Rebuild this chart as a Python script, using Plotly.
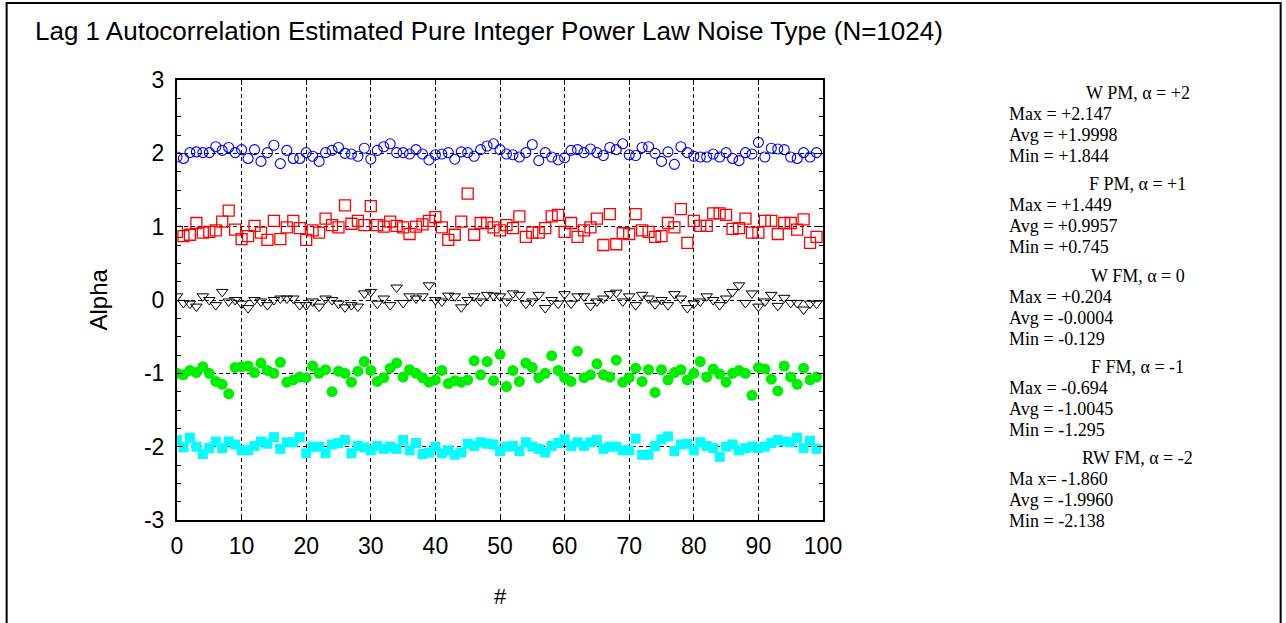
import plotly.graph_objects as go

# ---------------- data ----------------
idx = list(range(100))

w_pm = [1.95, 1.93, 2.01, 2.02, 2.01, 2.01, 2.09, 2.04, 2.08, 2.01,
        2.05, 1.93, 2.05, 1.89, 2.01, 2.11, 1.86, 2.04, 1.93, 1.93,
        2.01, 1.96, 1.89, 2.01, 2.04, 2.08, 2.00, 1.99, 1.96, 2.07,
        1.92, 2.04, 2.09, 2.13, 2.01, 2.01, 1.99, 2.05, 1.99, 1.91,
        1.98, 1.99, 2.01, 1.92, 2.02, 2.01, 1.96, 2.05, 2.10, 2.13,
        2.05, 1.99, 1.98, 1.95, 2.01, 2.12, 1.90, 2.01, 1.95, 1.91,
        1.94, 2.04, 2.05, 2.01, 2.06, 2.01, 1.97, 2.08, 2.05, 2.13,
        1.98, 1.97, 2.08, 2.09, 2.00, 1.89, 2.02, 1.85, 2.09, 2.01,
        1.96, 1.95, 1.95, 1.99, 1.95, 2.01, 1.93, 1.90, 2.01, 1.99,
        2.15, 1.95, 2.07, 2.06, 2.05, 1.95, 1.93, 2.01, 1.95, 2.01]

f_pm = [0.93, 0.87, 0.89, 1.05, 0.92, 0.93, 0.95, 1.07, 1.22, 0.96,
        0.83, 0.87, 1.01, 0.92, 0.82, 1.08, 0.83, 0.99, 1.08, 0.98,
        0.82, 0.95, 0.92, 1.11, 1.02, 0.99, 1.29, 1.04, 1.08, 1.02,
        1.28, 1.02, 1.00, 1.07, 1.01, 0.99, 0.90, 1.00, 1.03, 1.08,
        1.13, 0.99, 0.82, 0.89, 1.07, 1.45, 0.89, 1.05, 1.05, 0.99,
        0.95, 1.02, 0.98, 1.14, 0.86, 0.92, 0.92, 0.98, 1.14, 1.16,
        0.93, 1.05, 0.86, 0.95, 0.99, 1.11, 0.75, 1.17, 0.76, 0.91,
        0.90, 1.17, 0.95, 0.93, 0.86, 0.87, 1.05, 0.99, 1.24, 0.78,
        1.08, 1.01, 1.01, 1.18, 1.18, 1.16, 0.97, 0.98, 1.11, 0.92,
        0.92, 1.08, 1.08, 0.90, 1.05, 1.05, 0.96, 1.10, 0.78, 0.86]

w_fm = [0.05, -0.04, -0.05, -0.09, 0.05, 0.00, -0.07, 0.11, -0.02, 0.00,
        -0.05, -0.11, 0.00, -0.02, -0.07, 0.00, 0.02, 0.02, 0.02, -0.07,
        -0.07, -0.02, -0.09, 0.02, 0.00, -0.05, -0.10, -0.07, -0.09, 0.09,
        0.11, -0.05, 0.02, -0.07, 0.17, -0.04, 0.05, 0.02, 0.05, 0.20,
        0.00, -0.02, 0.06, 0.05, -0.10, 0.00, 0.05, -0.02, 0.07, 0.06,
        0.05, -0.02, 0.09, 0.07, -0.05, -0.02, 0.07, -0.11, 0.00, -0.05,
        0.08, -0.05, 0.05, 0.05, -0.08, -0.02, 0.02, 0.08, 0.10, -0.02,
        0.05, -0.07, 0.07, 0.02, -0.06, 0.00, -0.07, 0.08, 0.02, -0.11,
        -0.05, -0.02, 0.05, 0.00, -0.07, 0.02, 0.11, 0.20, -0.04, 0.09,
        -0.09, -0.02, 0.07, -0.08, 0.03, -0.04, -0.04, -0.13, -0.05, -0.05]

f_fm = [-1.00, -1.02, -0.96, -0.99, -0.91, -1.00, -1.11, -1.15, -1.28, -0.92,
        -0.91, -0.90, -0.99, -0.86, -0.96, -1.00, -0.85, -1.12, -1.09, -1.05,
        -1.06, -0.90, -1.00, -0.95, -1.25, -0.97, -1.00, -1.12, -0.97, -0.84,
        -0.96, -1.11, -1.06, -0.93, -0.86, -1.05, -0.95, -1.00, -1.06, -1.12,
        -1.09, -0.96, -1.14, -1.10, -1.12, -1.09, -0.83, -1.02, -0.84, -1.10,
        -0.74, -1.18, -0.96, -1.11, -0.86, -0.92, -1.06, -1.00, -0.76, -0.96,
        -1.06, -1.11, -0.70, -1.06, -1.02, -0.87, -1.02, -1.05, -0.82, -1.12,
        -1.06, -0.93, -1.11, -0.95, -1.26, -0.95, -1.09, -0.99, -0.95, -1.09,
        -1.00, -0.84, -1.05, -0.94, -1.01, -1.12, -1.00, -0.96, -1.00, -1.30,
        -0.92, -0.94, -1.08, -1.24, -0.90, -1.05, -1.15, -0.93, -1.09, -1.05]

rw_fm = [-1.91, -2.01, -1.88, -2.00, -2.10, -2.02, -1.93, -2.02, -1.93, -1.97,
         -2.05, -2.05, -1.99, -1.93, -1.96, -1.87, -2.03, -1.94, -1.94, -1.87,
         -2.09, -2.00, -2.00, -2.09, -1.97, -1.95, -1.91, -2.09, -1.99, -2.01,
         -2.05, -1.99, -2.03, -2.00, -2.03, -1.91, -2.05, -1.95, -2.10, -2.08,
         -2.00, -2.09, -2.05, -2.11, -2.08, -1.96, -1.99, -1.94, -1.96, -1.97,
         -2.06, -2.00, -1.99, -2.06, -1.94, -2.00, -2.03, -2.08, -1.99, -1.95,
         -1.90, -1.99, -1.94, -1.99, -1.94, -1.91, -2.03, -2.00, -2.00, -2.05,
         -2.05, -1.89, -2.11, -2.11, -1.99, -1.90, -1.86, -2.06, -1.97, -1.96,
         -2.05, -1.94, -1.99, -2.02, -2.14, -2.00, -1.97, -2.05, -2.02, -2.00,
         -2.02, -2.00, -1.95, -1.91, -1.93, -1.94, -1.88, -2.02, -1.92, -2.03]

y_tickvals = [-3, -2, -1, 0, 1, 2, 3]
y_ticktext = ["-3", "-2", "-1", "0", "1", "2", "3"]
x_tickvals = [0, 10, 20, 30, 40, 50, 60, 70, 80, 90, 100]
x_ticktext = ["0", "10", "20", "30", "40", "50", "60", "70", "80", "90", "100"]

group_titles = ["W PM, α = +2", "F PM, α = +1", "W FM, α = 0", "F FM, α = -1", "RW FM, α = -2"]
max_texts = ["Max = +2.147", "Max = +1.449", "Max = +0.204", "Max = -0.694", "Ma x= -1.860"]
avg_texts = ["Avg = +1.9998", "Avg = +0.9957", "Avg = -0.0004", "Avg = -1.0045", "Avg = -1.9960"]
min_texts = ["Min = +1.844", "Min = +0.745", "Min = -0.129", "Min = -1.295", "Min = -2.138"]

title_text = "Lag 1 Autocorrelation Estimated Pure Integer Power Law Noise Type (N=1024)"

# ---------------- figure ----------------
W, H = 1286, 623
L, R, T, B = 176.5, 463, 80, 103
PW, PH = W - L - R, H - T - B


def px(xp):
    return (xp - L) / PW


def py(yp):
    return (H - B - yp) / PH


fig = go.Figure()

fig.add_trace(go.Scatter(x=idx, y=w_pm, mode="markers",
                         marker=dict(symbol="circle-open", size=10, color="#0000ff",
                                     line=dict(width=1.1, color="#0000ff"))))
fig.add_trace(go.Scatter(x=idx, y=f_pm, mode="markers",
                         marker=dict(symbol="square-open", size=11, color="#ff0000",
                                     line=dict(width=1.3, color="#ff0000"))))
fig.add_trace(go.Scatter(x=idx, y=w_fm, mode="markers",
                         marker=dict(symbol="triangle-down-open", size=10, color="#000000",
                                     line=dict(width=1, color="#000000"))))
fig.add_trace(go.Scatter(x=idx, y=f_fm, mode="markers",
                         marker=dict(symbol="circle", size=11, color="#00ee00",
                                     line=dict(width=0))))
fig.add_trace(go.Scatter(x=idx, y=rw_fm, mode="markers",
                         marker=dict(symbol="square", size=10, color="#00ffff",
                                     line=dict(width=0))))

axis_font = dict(family="Liberation Sans, Arial, sans-serif", size=23, color="black")

fig.update_xaxes(range=[0, 100], tickmode="array", tickvals=x_tickvals, ticktext=x_ticktext,
                 showline=True, linecolor="black", linewidth=2, mirror="allticks",
                 ticks="inside", ticklen=5, tickcolor="black",
                 showgrid=True, gridcolor="black", gridwidth=1, griddash="4px,3px",
                 zeroline=False, tickfont=axis_font, ticklabelstandoff=4)
fig.update_yaxes(range=[-3, 3], tickmode="array", tickvals=y_tickvals, ticktext=y_ticktext,
                 showline=True, linecolor="black", linewidth=2, mirror="allticks",
                 ticks="inside", ticklen=6, tickcolor="black",
                 minor=dict(tickmode="linear", tick0=-3, dtick=0.25, ticks="inside", ticklen=4,
                            tickcolor="black", showgrid=False),
                 showgrid=True, gridcolor="black", gridwidth=1, griddash="4px,3px",
                 zeroline=False, tickfont=axis_font, ticklabelstandoff=6)

annotations = []
serif = dict(family="Liberation Serif, Times New Roman, serif", size=18, color="black")
for i in range(len(group_titles)):
    y0 = 93 + 91.3 * i
    annotations.append(dict(x=px(1138), y=py(y0), xref="paper", yref="paper",
                            text=group_titles[i], showarrow=False, xanchor="center",
                            yanchor="middle", font=serif))
    for k, txt in enumerate([max_texts[i], avg_texts[i], min_texts[i]]):
        annotations.append(dict(x=px(1007), y=py(y0 + 21 + 21 * k), xref="paper", yref="paper",
                                text=txt, showarrow=False, xanchor="left",
                                yanchor="middle", font=serif))

annotations.append(dict(x=px(97), y=py(300), xref="paper", yref="paper", text="Alpha",
                        textangle=-90, showarrow=False, xanchor="center", yanchor="middle",
                        font=dict(family="Liberation Sans, Arial, sans-serif", size=24, color="black")))
annotations.append(dict(x=px(500), y=py(596), xref="paper", yref="paper", text="#",
                        showarrow=False, xanchor="center", yanchor="middle",
                        font=dict(family="Liberation Sans, Arial, sans-serif", size=22, color="black")))

shapes = [dict(type="rect", xref="paper", yref="paper",
               x0=px(6), x1=px(1281), y0=py(640), y1=py(3),
               line=dict(color="black", width=2), fillcolor="rgba(0,0,0,0)", layer="above")]

fig.update_layout(
    width=W, height=H,
    margin=dict(l=L, r=R, t=T, b=B, pad=0),
    paper_bgcolor="white", plot_bgcolor="white",
    showlegend=False,
    title=dict(text=title_text, x=35 / W, xanchor="left", xref="container",
               y=1 - 31 / H, yanchor="middle", yref="container",
               font=dict(family="Liberation Sans, Arial, sans-serif", size=26, color="black")),
    annotations=annotations,
    shapes=shapes,
)

fig.write_html("out.html",
               config={"displayModeBar": False},
               post_script="document.body.style.margin='0';document.body.style.padding='0';")
